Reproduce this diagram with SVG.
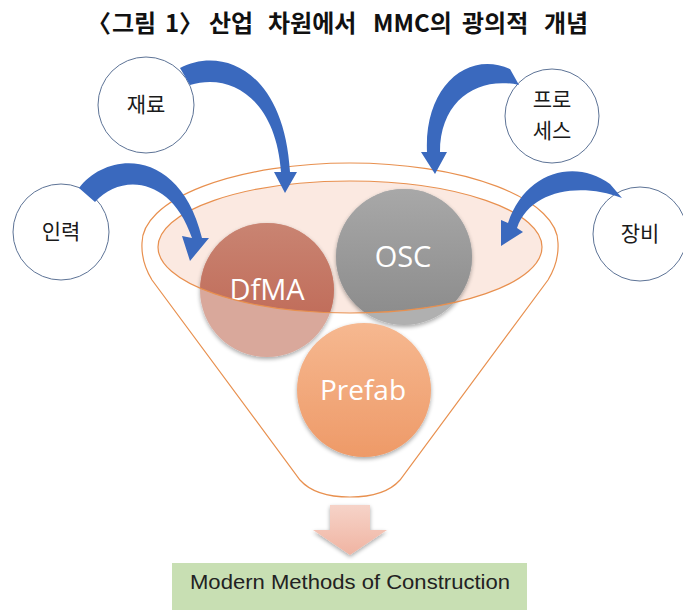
<svg xmlns="http://www.w3.org/2000/svg" width="683" height="610" viewBox="0 0 683 610">
<style>
.title{font-family:"Noto Sans CJK KR","Liberation Sans",sans-serif;font-weight:bold;font-size:24px;fill:#111}
.lbl{font-family:"Noto Sans CJK KR","Noto Sans",sans-serif;font-size:21px;fill:#1a1a1a;text-anchor:middle}
.big{font-family:"Open Sans","Noto Sans",sans-serif;font-size:29px;fill:#fff;text-anchor:middle}
.node{fill:#fff;stroke:#5d7396;stroke-width:1}
.arrow{fill:#3a69be}
.orange{fill:none;stroke:#e8904f;stroke-width:1.2}
</style>
<defs>
<linearGradient id="gDf" x1="0" y1="0" x2="0" y2="1"><stop offset="0" stop-color="#c98472"/><stop offset="1" stop-color="#bd6350"/></linearGradient>
<linearGradient id="gOs" x1="0" y1="0" x2="0" y2="1"><stop offset="0" stop-color="#a8a8a8"/><stop offset="1" stop-color="#8a8a8a"/></linearGradient>
<linearGradient id="gPf" x1="0" y1="0" x2="0" y2="1"><stop offset="0" stop-color="#f6b890"/><stop offset="1" stop-color="#ee9a68"/></linearGradient>
<linearGradient id="gAr" x1="0" y1="0" x2="0" y2="1"><stop offset="0" stop-color="#f6d3c8"/><stop offset="1" stop-color="#f0b4a2"/></linearGradient>
<clipPath id="clipE"><ellipse cx="350" cy="247" rx="192" ry="66"/></clipPath>
<filter id="sh" x="-20%" y="-20%" width="140%" height="140%"><feGaussianBlur in="SourceAlpha" stdDeviation="2"/><feOffset dy="1.5"/><feComponentTransfer><feFuncA type="linear" slope="0.35"/></feComponentTransfer><feMerge><feMergeNode/><feMergeNode in="SourceGraphic"/></feMerge></filter>
</defs>
<rect width="683" height="610" fill="#fff"/>
<text class="title" y="32"><tspan x="87">〈</tspan><tspan x="112">그림</tspan><tspan x="165">1</tspan><tspan x="179">〉</tspan><tspan x="209">산업</tspan><tspan x="268">차원에서</tspan><tspan x="373">MMC의</tspan><tspan x="462">광의적</tspan><tspan x="544">개념</tspan></text>

<g id="funnel">
<path class="orange" d="M142,243 A208,80 0 0 1 558,243 Q559,262 548,280 L400,480 Q385,497 350,497 Q315,497 300,480 L152,280 Q141,262 142,243 Z"/>
<ellipse cx="350" cy="247" rx="192" ry="66" fill="#fbe9e1"/>
</g>

<g id="dfma">
<circle cx="267" cy="290" r="67" fill="#d9a89b" filter="url(#sh)"/>
<circle cx="267" cy="290" r="67" fill="url(#gDf)" clip-path="url(#clipE)"/>
<text class="big" x="267" y="300">DfMA</text>
</g>
<g id="osc">
<circle cx="404" cy="257" r="68" fill="#b0b0b0" filter="url(#sh)"/>
<circle cx="404" cy="257" r="68" fill="url(#gOs)" clip-path="url(#clipE)"/>
<text class="big" x="403" y="267">OSC</text>
</g>
<g id="prefab">
<circle cx="364" cy="390" r="67" fill="url(#gPf)" filter="url(#sh)"/>
<text class="big" x="363" y="400" style="font-size:28px">Prefab</text>
</g>
<ellipse class="orange" cx="350" cy="247" rx="192" ry="66"/>

<g id="jaeryo"><circle class="node" cx="146" cy="105" r="48"/><text class="lbl" x="146" y="112">재료</text></g>
<g id="inryeok"><circle class="node" cx="61" cy="232" r="48"/><text class="lbl" x="61" y="239">인력</text></g>
<g id="process"><circle class="node" cx="552" cy="116" r="47"/><text class="lbl" x="552" y="107">프로</text><text class="lbl" x="552" y="138">세스</text></g>
<g id="jangbi"><circle class="node" cx="640" cy="234" r="47"/><text class="lbl" x="640" y="241">장비</text></g>

<g id="connectors">
<path class="arrow" d="M180,68 C222,46 284,70 290,172 L297,172 L285,193 L274,172 L281,172 C276,100 232,72 190,85 Z"/>
<path class="arrow" d="M79,188 C108,150 180,148 202,238 L209,238 L190,261 L182,236 L192,238 C172,178 122,172 95,202 Z"/>
<path class="arrow" d="M510,69 C468,50 424,86 427,152 L421,152 L435,174 L447,152 L440,152 C440,100 478,76 519,85 Z"/>
<path class="arrow" d="M610,184 C575,158 525,172 508,223 L501,220 L501,246 L523,232 L517,228 C530,190 580,182 622,198 Z"/>
<path d="M330,505 H370 V530 H387 L350,555 L313,530 H330 Z" fill="url(#gAr)" filter="url(#sh)"/>
</g>

<g id="mmc">
<rect x="172" y="563" width="355" height="47" fill="#c8dfb3"/>
<text x="350" y="589" text-anchor="middle" font-family="Liberation Sans, Arial, sans-serif" font-size="21" fill="#222" textLength="320" lengthAdjust="spacingAndGlyphs">Modern Methods of Construction</text>
</g>
</svg>
